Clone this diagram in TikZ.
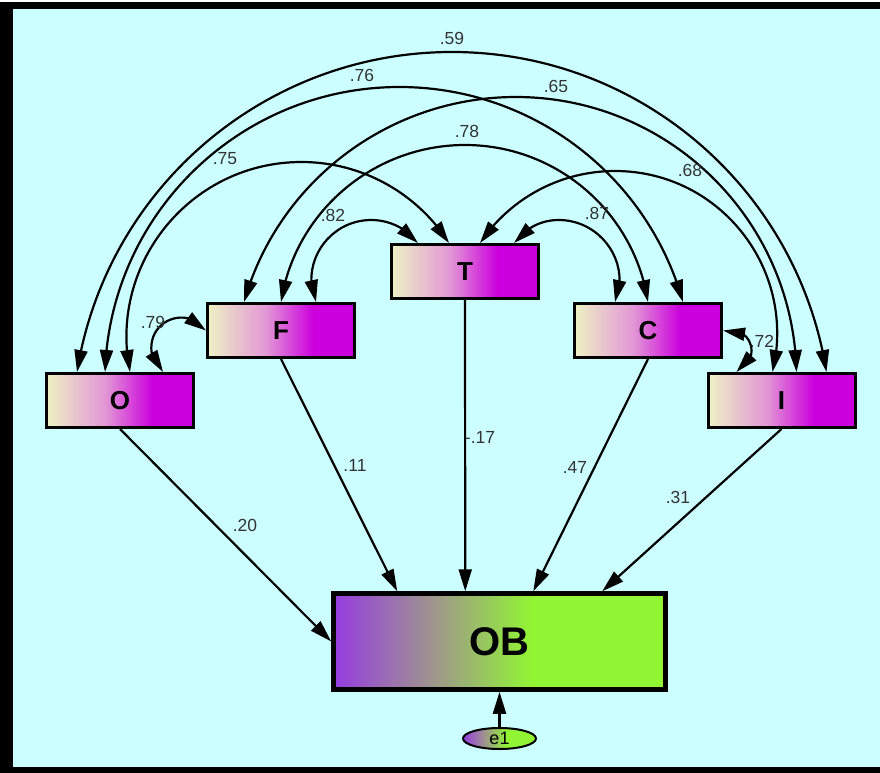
\documentclass[tikz,border=0pt]{standalone}
\usepackage{fontspec}
\setmainfont{Liberation Sans}
\usetikzlibrary{arrows.meta,bending,calc,shapes.geometric}

\definecolor{bgcyan}{RGB}{204,255,255}
\definecolor{exoL}{RGB}{238,242,196}
\definecolor{exoM}{RGB}{226,150,214}
\definecolor{exoR}{RGB}{204,0,222}
\definecolor{obL}{RGB}{150,60,225}
\definecolor{obM}{RGB}{158,150,140}
\definecolor{obR}{RGB}{146,245,52}
\definecolor{labelgray}{RGB}{51,51,51}

% exogenous variables: pale cream fading into magenta
\pgfdeclarehorizontalshading{exoshade}{100bp}{color(0bp)=(exoL); color(25bp)=(exoL); color(45bp)=(exoM); color(61bp)=(exoR); color(75bp)=(exoR); color(100bp)=(exoR)}
% outcome and its error term: purple through grey into lime
\pgfdeclarehorizontalshading{obshade}{100bp}{color(0bp)=(obL); color(25bp)=(obL); color(40bp)=(obM); color(55bp)=(obR); color(75bp)=(obR); color(100bp)=(obR)}

\begin{document}
\begin{tikzpicture}[x=1pt,y=-1pt,
  >={Triangle[length=22pt,width=13pt]},
  exo/.style={draw=black,line width=3pt,shade,shading=exoshade,minimum width=147pt,minimum height=54pt,inner sep=0pt,font=\fontsize{26}{26}\selectfont\bfseries},
  endo/.style={draw=black,line width=4.5pt,shade,shading=obshade,minimum width=332pt,minimum height=96pt,inner sep=0pt,font=\fontsize{40}{40}\selectfont\bfseries},
  errvar/.style={ellipse,draw=black,line width=2pt,shade,shading=obshade,minimum width=73pt,minimum height=21pt,inner sep=0pt,font=\fontsize{18}{18}\selectfont},
  link/.style={line width=2.2pt,draw=black},
  cov/.style={link,<->},
  reg/.style={link,->},
  coef/.style={text=labelgray,font=\fontsize{17.5}{17.5}\selectfont,inner sep=0pt},
]
\useasboundingbox (0,0) rectangle (880,773);

% frame and background
\fill[white] (0,0) rectangle (880,773);
\fill[black] (0,2) rectangle (880,773);
\fill[bgcyan] (13,9) rectangle (880,767);

% variables
\node[exo] (O) at (120,400.5) {O};
\node[exo] (F) at (281,330.5) {F};
\node[exo] (T) at (465,271.5) {T};
\node[exo] (C) at (648,330.5) {C};
\node[exo] (I) at (781.5,400.5) {I};
\node[endo] (OB) at (499.5,641.5) {OB};
\node[errvar] (e1) at (499.5,738.5) {e1};

% attachment points on the top edges
\coordinate (o1) at ($(O.north west)+(32,0)$);
\coordinate (o2) at ($(O.north west)+(60,0)$);
\coordinate (o3) at ($(O.north west)+(85,0)$);
\coordinate (o4) at ($(O.north west)+(118,0)$);
\coordinate (f1) at ($(F.north west)+(38,0)$);
\coordinate (f2) at ($(F.north west)+(75,0)$);
\coordinate (f3) at ($(F.north west)+(110,0)$);
\coordinate (t1) at ($(T.north west)+(28,0)$);
\coordinate (t2) at ($(T.north west)+(59,0)$);
\coordinate (t3) at ($(T.north west)+(90,0)$);
\coordinate (t4) at ($(T.north west)+(124,0)$);
\coordinate (c1) at ($(C.north west)+(42,0)$);
\coordinate (c2) at ($(C.north west)+(75,0)$);
\coordinate (c3) at ($(C.north west)+(110,0)$);
\coordinate (i0) at ($(I.north west)+(30,0)$);
\coordinate (i1) at ($(I.north west)+(66,0)$);
\coordinate (i2) at ($(I.north west)+(90,0)$);
\coordinate (i3) at ($(I.north west)+(120,0)$);
\coordinate (ob1) at ($(OB.north west)+(66,0)$);
\coordinate (ob2) at ($(OB.north west)+(134,0)$);
\coordinate (ob3) at ($(OB.north west)+(202,0)$);
\coordinate (ob4) at ($(OB.north west)+(271,0)$);

% crests of the covariance arcs
\coordinate (top59) at (452,52);
\coordinate (top76) at (399.5,87);
\coordinate (top65) at (515.8,97);
\coordinate (top78) at (465,145);
\coordinate (top75) at (301.5,162);
\coordinate (top68) at (615,171);
\coordinate (top82) at (371.3,220);
\coordinate (top87) at (558.7,220);
\coordinate (side79) at (151.3,348);
\coordinate (side72) at (751.5,350.8);

% covariances (circular arcs, two cubic pieces each)
\draw[cov] (o1) .. controls +(-80.95:186.7) and +(180:186.7) .. (top59)
                .. controls +(0:186.7) and +(-99.05:186.7) .. (i3);
\draw[cov] (o2) .. controls +(-88.13:159.0) and +(180:159.0) .. (top76)
                .. controls +(0:132.1) and +(-105.68:132.1) .. (c3);
\draw[cov] (f1) .. controls +(-74.25:126.0) and +(180:126.0) .. (top65)
                .. controls +(0:152.9) and +(-91.30:152.9) .. (i2);
\draw[cov] (f2) .. controls +(-81.24:91.4) and +(180:91.4) .. (top78)
                .. controls +(0:91.4) and +(-98.76:91.4) .. (c2);
\draw[cov] (o3) .. controls +(-101.53:110.7) and +(180:110.7) .. (top75)
                .. controls +(0:59.8) and +(-122.5:59.8) .. (t2);
\draw[cov] (t3) .. controls +(-56.13:54.2) and +(180:54.2) .. (top68)
                .. controls +(0:105.3) and +(-76.34:105.3) .. (i1);
\draw[cov] (f3) .. controls +(-112.87:42.3) and +(180:42.3) .. (top82)
                .. controls +(0:18.3) and +(-127.7:18.3) .. (t1);
\draw[cov] (t4) .. controls +(-52.3:18.3) and +(180:18.3) .. (top87)
                .. controls +(0:42.3) and +(-67.13:42.3) .. (c1);
\draw[cov] (F.west) .. controls +(-125.8:29.8) and +(-90:29.8) .. (side79)
                    .. controls +(90:9.37) and +(-141.6:9.37) .. (o4);
\draw[cov] (C.east) .. controls +(-12.4:15.0) and +(-90:15.0) .. (side72)
                    .. controls +(90:9.43) and +(-23:9.43) .. (i0);

% regression paths
\draw[reg] (O.south) -- (OB.west);
\draw[reg] (F.south) -- (ob1);
\draw[reg] (T.south) -- (ob2);
\draw[reg] (C.south) -- (ob3);
\draw[reg] (I.south) -- (ob4);
\draw[reg] (e1.north) -- (OB.south);

% coefficients
\node[coef] (l59) at (452,38) {.59};
\node[coef] (l76) at (362,75) {.76};
\node[coef] (l65) at (556,86) {.65};
\node[coef] (l78) at (467,131) {.78};
\node[coef] (l75) at (225,159) {.75};
\node[coef] (l68) at (690,170) {.68};
\node[coef] (l82) at (333,215) {.82};
\node[coef] (l87) at (597,213) {.87};
\node[coef] (l79) at (153,322) {.79};
\node[coef] (l72) at (762,341) {.72};
\node[coef] (l20) at (245,525) {.20};
\node[coef] (l11) at (355,465) {.11};
\node[coef] (l17) at (480,437) {-.17};
\node[coef] (l47) at (575,467) {.47};
\node[coef] (l31) at (678,497) {.31};
\end{tikzpicture}
\end{document}
